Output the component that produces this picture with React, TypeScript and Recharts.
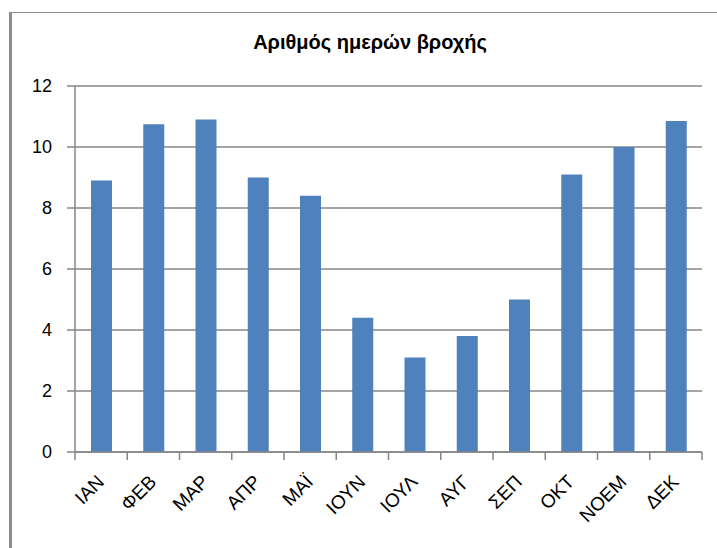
import React from "react"
import { BarChart, Bar, XAxis, YAxis, CartesianGrid } from "recharts"

const months = ["ΙΑΝ", "ΦΕΒ", "ΜΑΡ", "ΑΠΡ", "ΜΑΪ", "ΙΟΥΝ", "ΙΟΥΛ", "ΑΥΓ", "ΣΕΠ", "ΟΚΤ", "ΝΟΕΜ", "ΔΕΚ"]
const rainDays = [8.9, 10.75, 10.9, 9.0, 8.4, 4.4, 3.1, 3.8, 5.0, 9.1, 10.0, 10.85]
const yTicks = [0, 2, 4, 6, 8, 10, 12]

const data = months.map((m, i) => ({ month: m, days: rainDays[i] }))

const AXIS = "#868686"
const FONT = "Liberation Sans, Arial, sans-serif"
const W = 717
const H = 548
const PLOT_LEFT = 75
const PLOT_RIGHT = 702

function MonthTick(props: any) {
  const { x, y, payload, index } = props
  const half = payload?.offset ?? (PLOT_RIGHT - PLOT_LEFT) / months.length / 2
  const tx = x + 4
  const ty = y + 31
  return (
    <g>
      <line x1={x - half} x2={x - half} y1={y} y2={y + 8} stroke={AXIS} strokeWidth={1.5} />
      {index === months.length - 1 && (
        <line x1={x + half} x2={x + half} y1={y} y2={y + 8} stroke={AXIS} strokeWidth={1.5} />
      )}
      <text
        x={tx}
        y={ty}
        textAnchor="end"
        transform={`rotate(-45, ${tx}, ${ty})`}
        fontSize={19}
        fontFamily={FONT}
        fill="#000"
      >
        {payload.value}
      </text>
    </g>
  )
}

export default function App() {
  return (
    <div style={{ position: "absolute", left: 0, top: 0, width: W, height: H, background: "#fff", overflow: "hidden" }}>
      <div
        style={{
          position: "absolute",
          left: 9,
          top: 12,
          width: W,
          height: H,
          borderLeft: "3px solid #8c8c8c",
          borderTop: "1px solid #8c8c8c",
        }}
      />
      <div
        style={{
          position: "absolute",
          left: 0,
          top: 31,
          width: 740,
          textAlign: "center",
          fontFamily: FONT,
          fontWeight: "bold",
          fontSize: 20,
          color: "#000",
        }}
      >
        Αριθμός ημερών βροχής
      </div>
      <div style={{ position: "absolute", left: 0, top: 0 }}>
        <BarChart
          width={W}
          height={H}
          data={data}
          margin={{ top: 86, right: W - PLOT_RIGHT, bottom: 16, left: 15 }}
        >
          <CartesianGrid vertical={false} stroke={AXIS} strokeWidth={1.5} />
          <XAxis
            dataKey="month"
            stroke={AXIS}
            strokeWidth={1.5}
            tickLine={false}
            tickSize={0}
            tickMargin={0}
            interval={0}
            height={80}
            tick={<MonthTick />}
          />
          <YAxis
            domain={[0, 12]}
            ticks={yTicks}
            width={60}
            stroke={AXIS}
            strokeWidth={1.5}
            tickSize={8}
            tickMargin={15}
            tick={{ fill: "#000", fontSize: 18, fontFamily: FONT }}
          />
          <Bar dataKey="days" fill="#4F81BD" barSize={21} isAnimationActive={false} />
        </BarChart>
      </div>
    </div>
  )
}
